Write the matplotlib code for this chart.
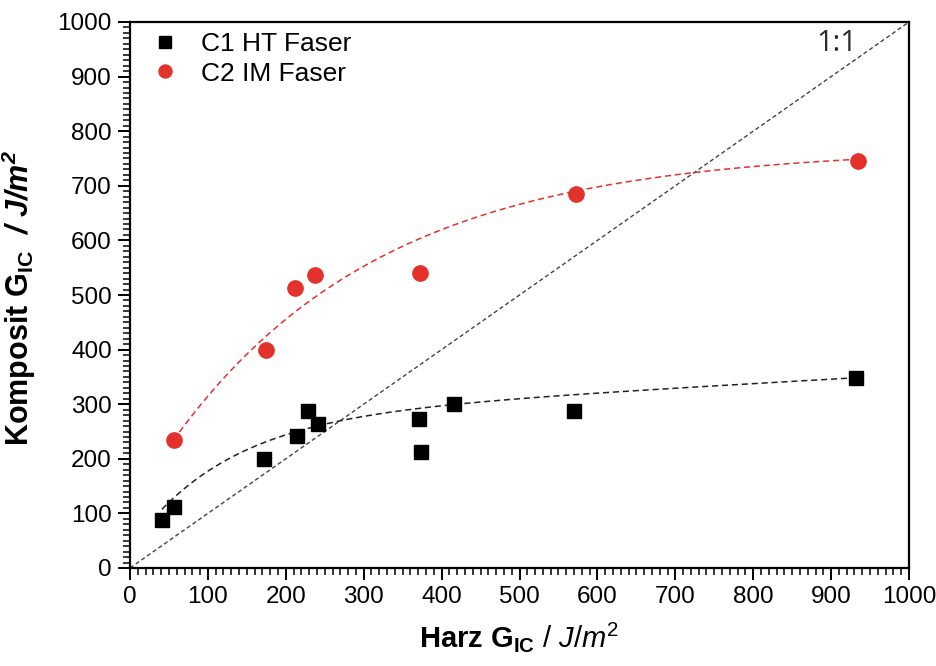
import numpy as np
import matplotlib
matplotlib.use("Agg")
import matplotlib.pyplot as plt
from matplotlib.ticker import MultipleLocator

plt.rcParams['font.family'] = ['Liberation Sans', 'DejaVu Sans']
plt.rcParams['mathtext.fontset'] = 'custom'
plt.rcParams['mathtext.rm'] = 'Liberation Sans'
plt.rcParams['mathtext.it'] = 'Liberation Sans:italic'
plt.rcParams['mathtext.bf'] = 'Liberation Sans:bold'
plt.rcParams['mathtext.bfit'] = 'Liberation Sans:bold:italic'

# Resin G_IC (x) vs composite G_IC (y), J/m^2
c1_label = "C1 HT Faser"
c1_resin = [41, 56, 172, 214, 229, 241, 371, 374, 416, 570, 932]
c1_comp = [87, 112, 200, 241, 287, 263, 273, 212, 300, 287, 348]

c2_label = "C2 IM Faser"
c2_resin = [56, 174, 212, 237, 372, 572, 934]
c2_comp = [235, 400, 513, 536, 540, 685, 746]

# Fitted curves: y = A - B*exp(-x/t) + C*x
c1_fit = dict(A=274.0, B=237.5, t=122.0, C=0.08)
c2_fit = dict(A=769.3, B=658.2, t=270.0, C=0.0)

x_ticks = [0, 100, 200, 300, 400, 500, 600, 700, 800, 900, 1000]
y_ticks = [0, 100, 200, 300, 400, 500, 600, 700, 800, 900, 1000]

red = '#e3312b'


def model(x, A, B, t, C):
    return A - B * np.exp(-x / t) + C * x


fig = plt.figure(figsize=(9.37, 6.66), dpi=100)
ax = fig.add_axes([130 / 937, 1 - 568 / 666, 779 / 937, 546 / 666])

# 1:1 reference line
ax.plot([0, 1000], [0, 1000], ls=(0, (3, 2)), color='#444444', lw=1.0, zorder=1)

xs1 = np.linspace(min(c1_resin), max(c1_resin), 300)
ax.plot(xs1, model(xs1, **c1_fit), ls=(0, (4, 2.5)), color='#222222', lw=1.1, zorder=2)
xs2 = np.linspace(min(c2_resin), max(c2_resin), 300)
ax.plot(xs2, model(xs2, **c2_fit), ls=(0, (4, 2.5)), color=red, lw=1.1, zorder=2)

ax.plot(c1_resin, c1_comp, 's', color='black', ms=9.5, label=c1_label, zorder=3)
ax.plot(c2_resin, c2_comp, 'o', color=red, ms=11, label=c2_label, zorder=3)

ax.set_xlim(0, 1000)
ax.set_ylim(0, 1000)
ax.set_xticks(x_ticks)
ax.set_yticks(y_ticks)
ax.xaxis.set_minor_locator(MultipleLocator(10))
ax.yaxis.set_minor_locator(MultipleLocator(10))
ax.tick_params(which='major', direction='out', length=8.6, width=1.4, labelsize=17.5,
               top=False, right=False, pad=4.5)
ax.tick_params(which='minor', direction='out', length=5, width=1.1, top=False, right=False)
for s in ax.spines.values():
    s.set_linewidth(1.6)

ax.text(933, 961, "1:1", fontsize=21, color='#2a2a2a', ha='right', va='center',
        family=['Open Sans', 'DejaVu Sans'])

leg = ax.legend(loc='upper left', frameon=False, fontsize=19, handletextpad=0.85,
                borderpad=0, borderaxespad=0, labelspacing=0.22, handlelength=1.0,
                markerscale=0.85, bbox_to_anchor=(0.028, 0.982))

ax.set_xlabel(r"$\mathbf{Harz\ G_{IC}}$ $\mathit{/\ J/m^2}$", fontsize=21, va='baseline')
ax.xaxis.set_label_coords(0.5, -0.145)
ax.set_ylabel(r"$\mathbf{Komposit\ G_{IC}}\ \ \mathbfit{/\ J/m^2}$", fontsize=22)
ax.yaxis.set_label_coords(-0.118, 0.494)

fig.savefig("out.png", dpi=100)
